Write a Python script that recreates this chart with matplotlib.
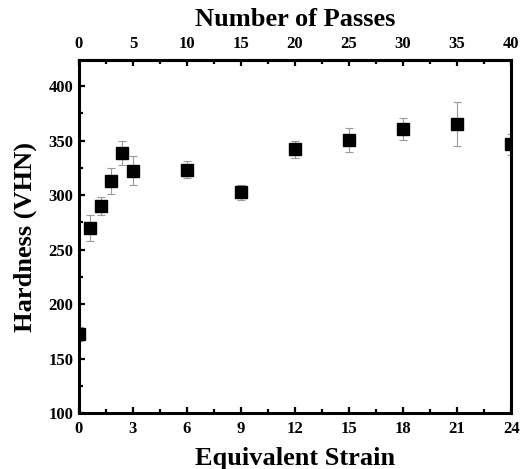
import numpy as np
from matplotlib import pyplot as plt
from matplotlib.ticker import MultipleLocator

plt.rcParams['font.family'] = 'Liberation Serif'
plt.rcParams['font.weight'] = 'bold'

# hardness data
passes = [0, 1, 2, 3, 4, 5, 10, 15, 20, 25, 30, 35, 40]
strain = [0, 0.6, 1.2, 1.8, 2.4, 3, 6, 9, 12, 15, 18, 21, 24]
hardness = [172.5, 269.5, 290, 313, 338.5, 322.5, 323.5, 302.5, 342, 350.5, 361, 365.5, 346.5]
err = [6, 12, 8.5, 12, 11, 13.5, 8, 7, 7.5, 11, 10, 20, 10]

fig = plt.figure(figsize=(5.21, 4.69), dpi=100)
ax = fig.add_axes([0.1516, 0.1194, 0.8294, 0.7526])

ax.errorbar(strain, hardness, yerr=err, fmt='s', color='black', ms=8.5,
            ecolor='#999999', elinewidth=0.8, capsize=3, capthick=0.8)

ax.set_xlim(0, 24)
ax.set_ylim(100, 424)
ax.xaxis.set_major_locator(MultipleLocator(3))
ax.xaxis.set_minor_locator(MultipleLocator(1.5))
ax.yaxis.set_major_locator(MultipleLocator(50))
ax.yaxis.set_minor_locator(MultipleLocator(25))

for s in ax.spines.values():
    s.set_linewidth(2.2)

ax.tick_params(which='both', direction='in', width=1.6, labelsize=12)
ax.tick_params(axis='x', pad=6)
ax.tick_params(axis='y', pad=4)
ax.tick_params(which='major', length=4.5)
ax.tick_params(which='minor', length=3)

# top axis in number of passes
top = ax.secondary_xaxis('top', functions=(lambda s: s / 0.6, lambda p: p * 0.6))
top.xaxis.set_major_locator(MultipleLocator(5))
top.xaxis.set_minor_locator(MultipleLocator(2.5))
top.tick_params(which='both', direction='in', width=1.6, labelsize=12, pad=6)
top.tick_params(which='major', length=4.5)
top.tick_params(which='minor', length=3)
top.spines['top'].set_linewidth(2.2)
top.set_xlabel('Number of Passes', fontsize=19, fontweight='bold', labelpad=7)

ax.set_xlabel('Equivalent Strain', fontsize=19, fontweight='bold', labelpad=7)
ax.set_ylabel('Hardness (VHN)', fontsize=19, fontweight='bold', labelpad=8)

plt.savefig('out.png', dpi=100)
